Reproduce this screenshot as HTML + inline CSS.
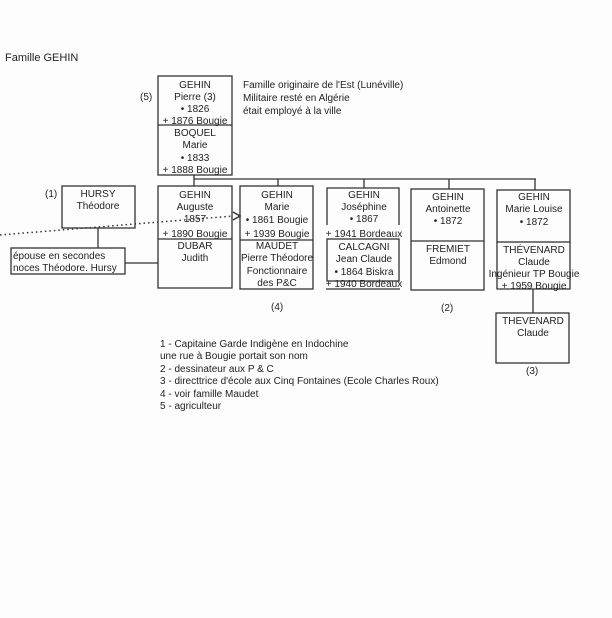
<!DOCTYPE html>
<html><head><meta charset="utf-8"><style>
html,body{margin:0;padding:0;background:#fdfdfd;}
svg{display:block;}
text{font-family:"Liberation Sans",sans-serif;font-size:10px;fill:#222;}
.c{text-anchor:middle;}
</style></head><body>
<svg width="612" height="618" viewBox="0 0 612 618">
<rect width="612" height="618" fill="#fdfdfd"/>
<text x="5" y="61" style="font-size:11px">Famille GEHIN</text>
<g fill="none" stroke="#333" stroke-width="1.3">
<rect x="158" y="76" width="74" height="99"/>
<line x1="158" y1="125" x2="232" y2="125"/>
<line x1="194" y1="175" x2="194" y2="186"/>
<line x1="194" y1="179" x2="536" y2="179"/>
<line x1="278" y1="179" x2="278" y2="186"/>
<line x1="364" y1="179" x2="364" y2="188"/>
<line x1="449" y1="179" x2="449" y2="189"/>
<line x1="535" y1="179" x2="535" y2="190"/>
<rect x="158" y="186" width="74" height="102"/>
<line x1="158" y1="239" x2="232" y2="239"/>
<rect x="240" y="186" width="73" height="103"/>
<line x1="240" y1="240" x2="313" y2="240"/>
<polyline points="327,225 327,188 399,188 399,225"/>
<rect x="327" y="239" width="72" height="42"/>
<line x1="326" y1="289" x2="400" y2="289"/>
<rect x="411" y="189" width="73" height="101"/>
<line x1="411" y1="241" x2="484" y2="241"/>
<rect x="497" y="190" width="73" height="52"/>
<polyline points="497,242 497,289 570,289 570,242"/>
<line x1="533" y1="289" x2="533" y2="313"/>
<rect x="496" y="313" width="73" height="50"/>
<rect x="62" y="186" width="73" height="42"/>
<line x1="98" y1="228" x2="98" y2="248"/>
<rect x="11" y="248" width="114" height="26"/>
<line x1="125" y1="263" x2="158" y2="263"/>
</g>
<line x1="0" y1="235" x2="233" y2="216" stroke="#333" stroke-width="1.5" stroke-dasharray="1.5,3"/>
<polyline points="233,212 240,216 233,220" fill="none" stroke="#333" stroke-width="1.5"/>
<text x="140" y="100">(5)</text>
<text class="c" x="195" y="88">GEHIN</text>
<text class="c" x="195" y="100">Pierre (3)</text>
<text class="c" x="195" y="112">• 1826</text>
<text class="c" x="195" y="124">+ 1876 Bougie</text>
<text class="c" x="195" y="136">BOQUEL</text>
<text class="c" x="195" y="148">Marie</text>
<text class="c" x="195" y="161">• 1833</text>
<text class="c" x="195" y="173">+ 1888 Bougie</text>
<text x="243" y="88">Famille originaire de l'Est (Lunéville)</text>
<text x="243" y="101">Militaire resté en Algérie</text>
<text x="243" y="114">était employé à la ville</text>
<text x="45" y="197">(1)</text>
<text class="c" x="98" y="197">HURSY</text>
<text class="c" x="98" y="209">Théodore</text>
<text x="13" y="259">épouse en secondes</text>
<text x="13" y="271">noces Théodore. Hursy</text>
<text class="c" x="195" y="198">GEHIN</text>
<text class="c" x="195" y="210">Auguste</text>
<text class="c" x="195" y="222">1857</text>
<text class="c" x="195" y="237">+ 1890 Bougie</text>
<text class="c" x="195" y="249">DUBAR</text>
<text class="c" x="195" y="261">Judith</text>
<text class="c" x="277" y="198">GEHIN</text>
<text class="c" x="277" y="210">Marie</text>
<text class="c" x="277" y="223">• 1861 Bougie</text>
<text class="c" x="277" y="237">+ 1939 Bougie</text>
<text class="c" x="277" y="249">MAUDET</text>
<text class="c" x="277" y="261">Pierre Théodore</text>
<text class="c" x="277" y="274">Fonctionnaire</text>
<text class="c" x="277" y="286">des P&amp;C</text>
<text x="271" y="310">(4)</text>
<text class="c" x="364" y="198">GEHIN</text>
<text class="c" x="364" y="210">Joséphine</text>
<text class="c" x="364" y="222">• 1867</text>
<text class="c" x="364" y="237">+ 1941 Bordeaux</text>
<text class="c" x="364" y="250">CALCAGNI</text>
<text class="c" x="364" y="262">Jean Claude</text>
<text class="c" x="364" y="275">• 1864 Biskra</text>
<text class="c" x="364" y="287">+ 1940 Bordeaux</text>
<text class="c" x="448" y="200">GEHIN</text>
<text class="c" x="448" y="212">Antoinette</text>
<text class="c" x="448" y="224">• 1872</text>
<text class="c" x="448" y="252">FREMIET</text>
<text class="c" x="448" y="264">Edmond</text>
<text x="441" y="311">(2)</text>
<text class="c" x="534" y="200">GEHIN</text>
<text class="c" x="534" y="212">Marie Louise</text>
<text class="c" x="534" y="225">• 1872</text>
<text class="c" x="534" y="253">THÉVENARD</text>
<text class="c" x="534" y="265">Claude</text>
<text class="c" x="534" y="277">Ingénieur TP Bougie</text>
<text class="c" x="534" y="289">+ 1959 Bougie</text>
<text class="c" x="533" y="324">THEVENARD</text>
<text class="c" x="533" y="336">Claude</text>
<text x="526" y="374">(3)</text>
<text x="160" y="347">1  - Capitaine Garde Indigène en Indochine</text>
<text x="160" y="359">une rue à Bougie portait son nom</text>
<text x="160" y="372">2 - dessinateur aux P &amp; C</text>
<text x="160" y="384">3 - directtrice d'école aux Cinq Fontaines (Ecole Charles Roux)</text>
<text x="160" y="397">4 - voir famille Maudet</text>
<text x="160" y="409">5 - agriculteur</text>
</svg>
</body></html>
